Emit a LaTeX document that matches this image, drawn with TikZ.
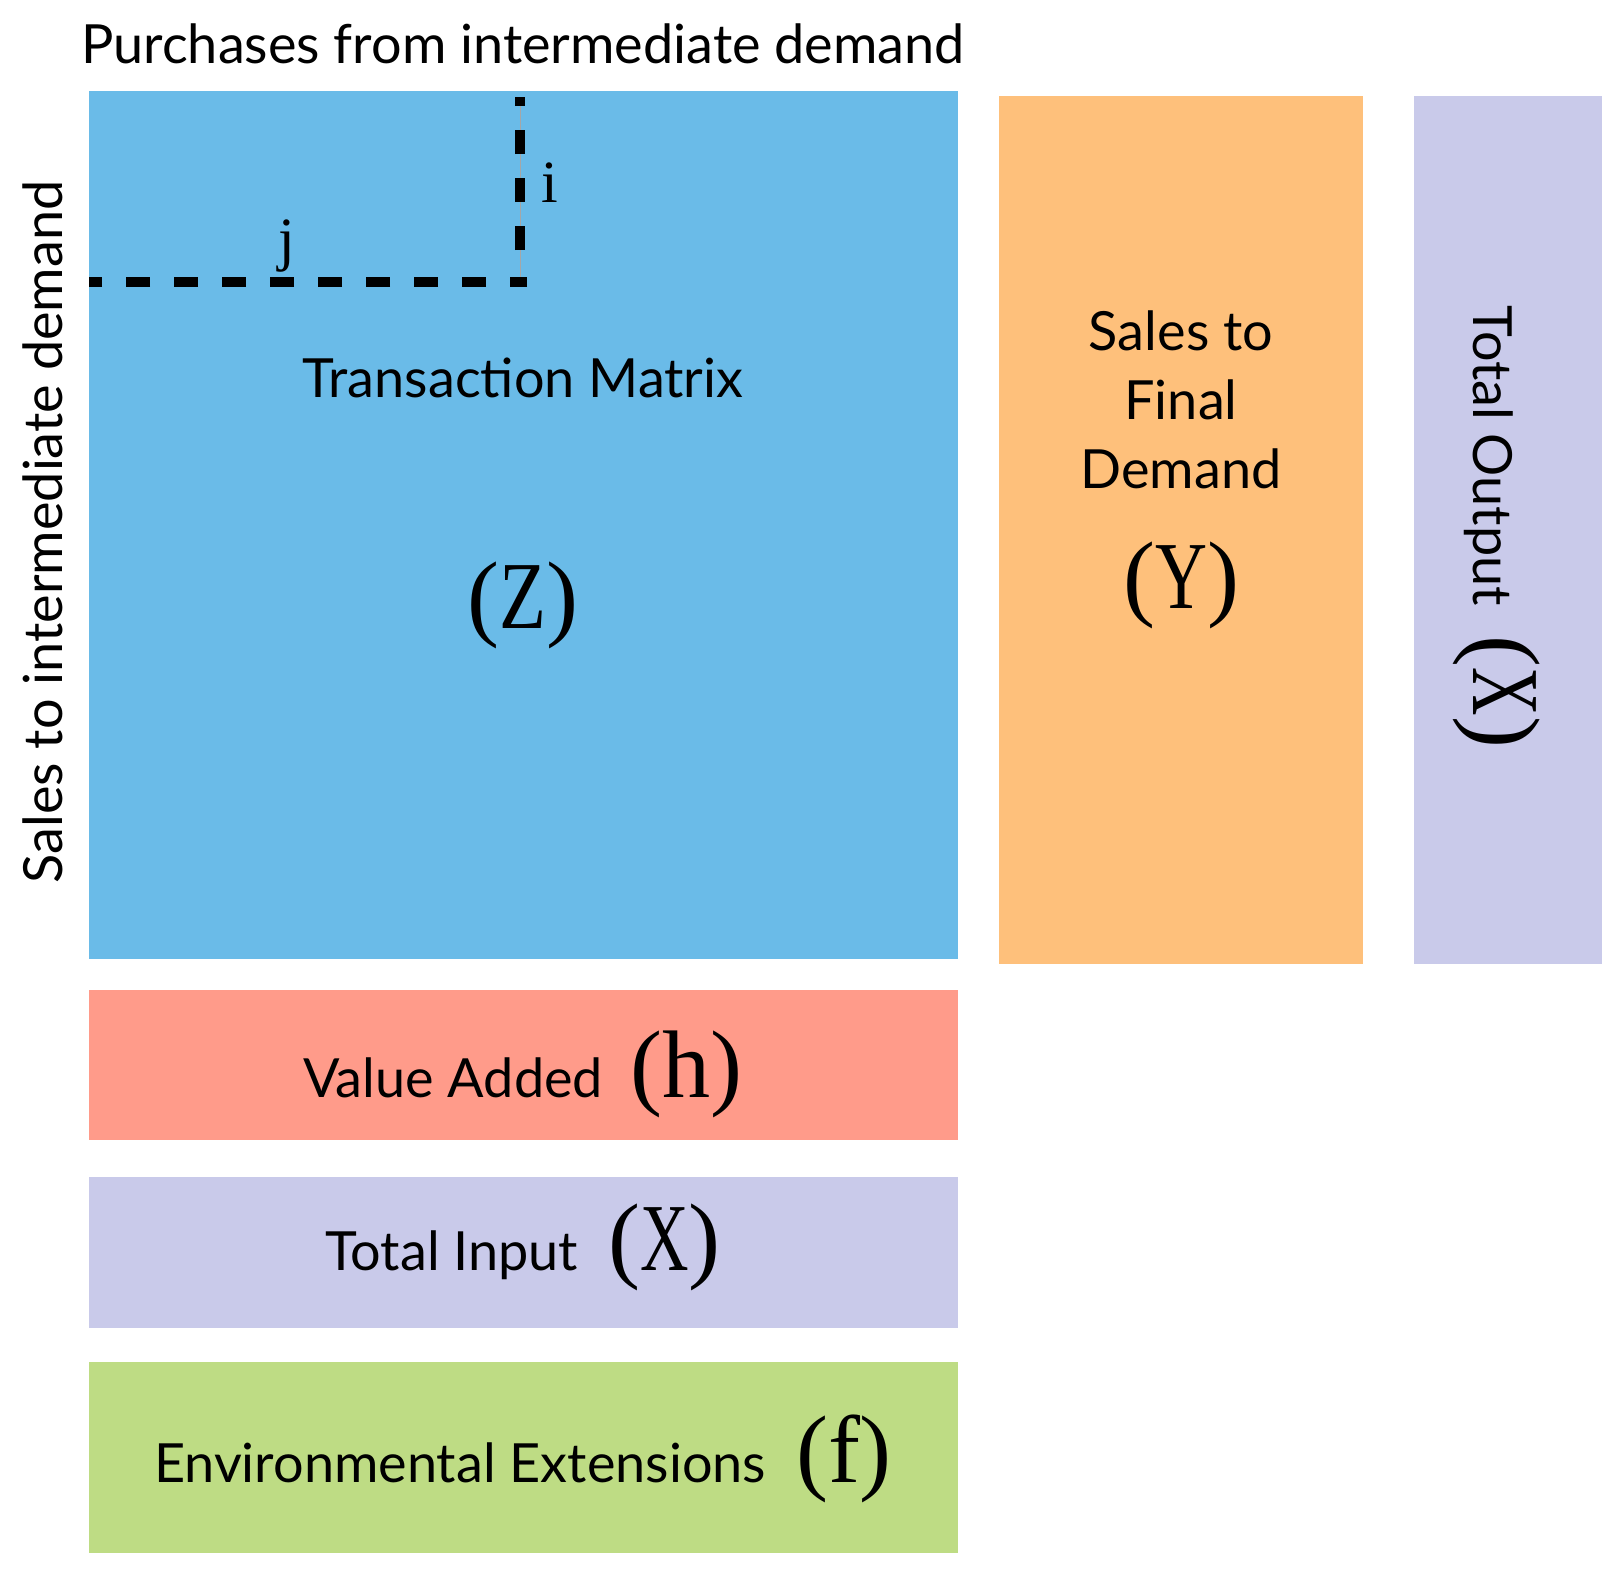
\documentclass[tikz,border=0pt]{standalone}
\usepackage{fontspec}
\usepackage{graphicx}
\setmainfont{Lato}
\newfontfamily\serifF{Liberation Serif}
\definecolor{zblue}{HTML}{6ABBE8}
\definecolor{yorange}{HTML}{FEC07B}
\definecolor{xpurple}{HTML}{C9CAEA}
\definecolor{hred}{HTML}{FF9B8A}
\definecolor{fgreen}{HTML}{BEDC84}
\newcommand\sansT{\fontsize{27}{33}\selectfont}
\newcommand\serL{\serifF\fontsize{48}{52}\selectfont}
\newcommand\serS{\serifF\fontsize{30}{34}\selectfont}
\newcommand\ncap[2][0.8]{\scalebox{#1}[1]{#2}}
\begin{document}
\begin{tikzpicture}[x=0.5pt,y=-0.5pt,
  every node/.style={inner sep=0pt, outer sep=0pt, text=black},
  lbl/.style={anchor=base, font=\sansT},
  dashline/.style={line width=5pt, dash pattern=on 12pt off 12pt}]
\useasboundingbox (0,0) rectangle (1622,1581);
\fill[white] (0,0) rectangle (1622,1581);
% boxes
\fill[zblue] (89,91) rectangle (958,959);
\fill[yorange] (999,96) rectangle (1363,964);
\fill[xpurple] (1414,96) rectangle (1602,964);
\fill[hred] (89,990) rectangle (958,1140);
\fill[xpurple] (89,1177) rectangle (958,1328);
\fill[fgreen] (89,1362) rectangle (958,1553);
% dashed index lines
\coordinate (hl) at (89,282);
\coordinate (hr) at (527,282);
\coordinate (vb) at (520,274);
\coordinate (vt) at (520,97);
\draw[gray!70, line width=0.5pt] (520,282) -- (vt);
\draw[dashline, dash phase=3.5pt] (hr) -- (hl);
\draw[dashline, dash phase=12pt] (vb) -- (vt);
\node[anchor=base, font=\serS] (i) at (550,202) {i};
\node[anchor=base, font=\serS] (j) at (287,259) {j};
% texts
\node[lbl] (top) at (523,63) {Purchases from intermediate demand};
\node[lbl, rotate=90] (left) at (62,532) {Sales to intermediate demand};
\node[lbl] (tm) at (523,397) {Transaction Matrix};
\node[anchor=base, font=\serL] (z) at (523,628) {(\ncap{Z})};
\node[lbl] (s1) at (1181,350) {Sales to};
\node[lbl] (s2) at (1181,419) {Final};
\node[lbl] (s3) at (1181,488) {Demand};
\node[anchor=base, font=\serL] (y) at (1181,608) {(\ncap[0.75]{Y})};
\node[lbl, rotate=-90] (to) at (1473,527) {Total Output\hspace{15pt}{\serL(\ncap[0.7]{X})}};
\node[lbl] (va) at (523,1097) {Value Added\hspace{14pt}{\serL(h)}};
\node[lbl] (ti) at (523,1270) {Total Input\hspace{15pt}{\serL(\ncap[0.7]{X})}};
\node[lbl] (ee) at (523,1482) {Environmental Extensions\hspace{15pt}{\serL(f)}};
\end{tikzpicture}
\end{document}
